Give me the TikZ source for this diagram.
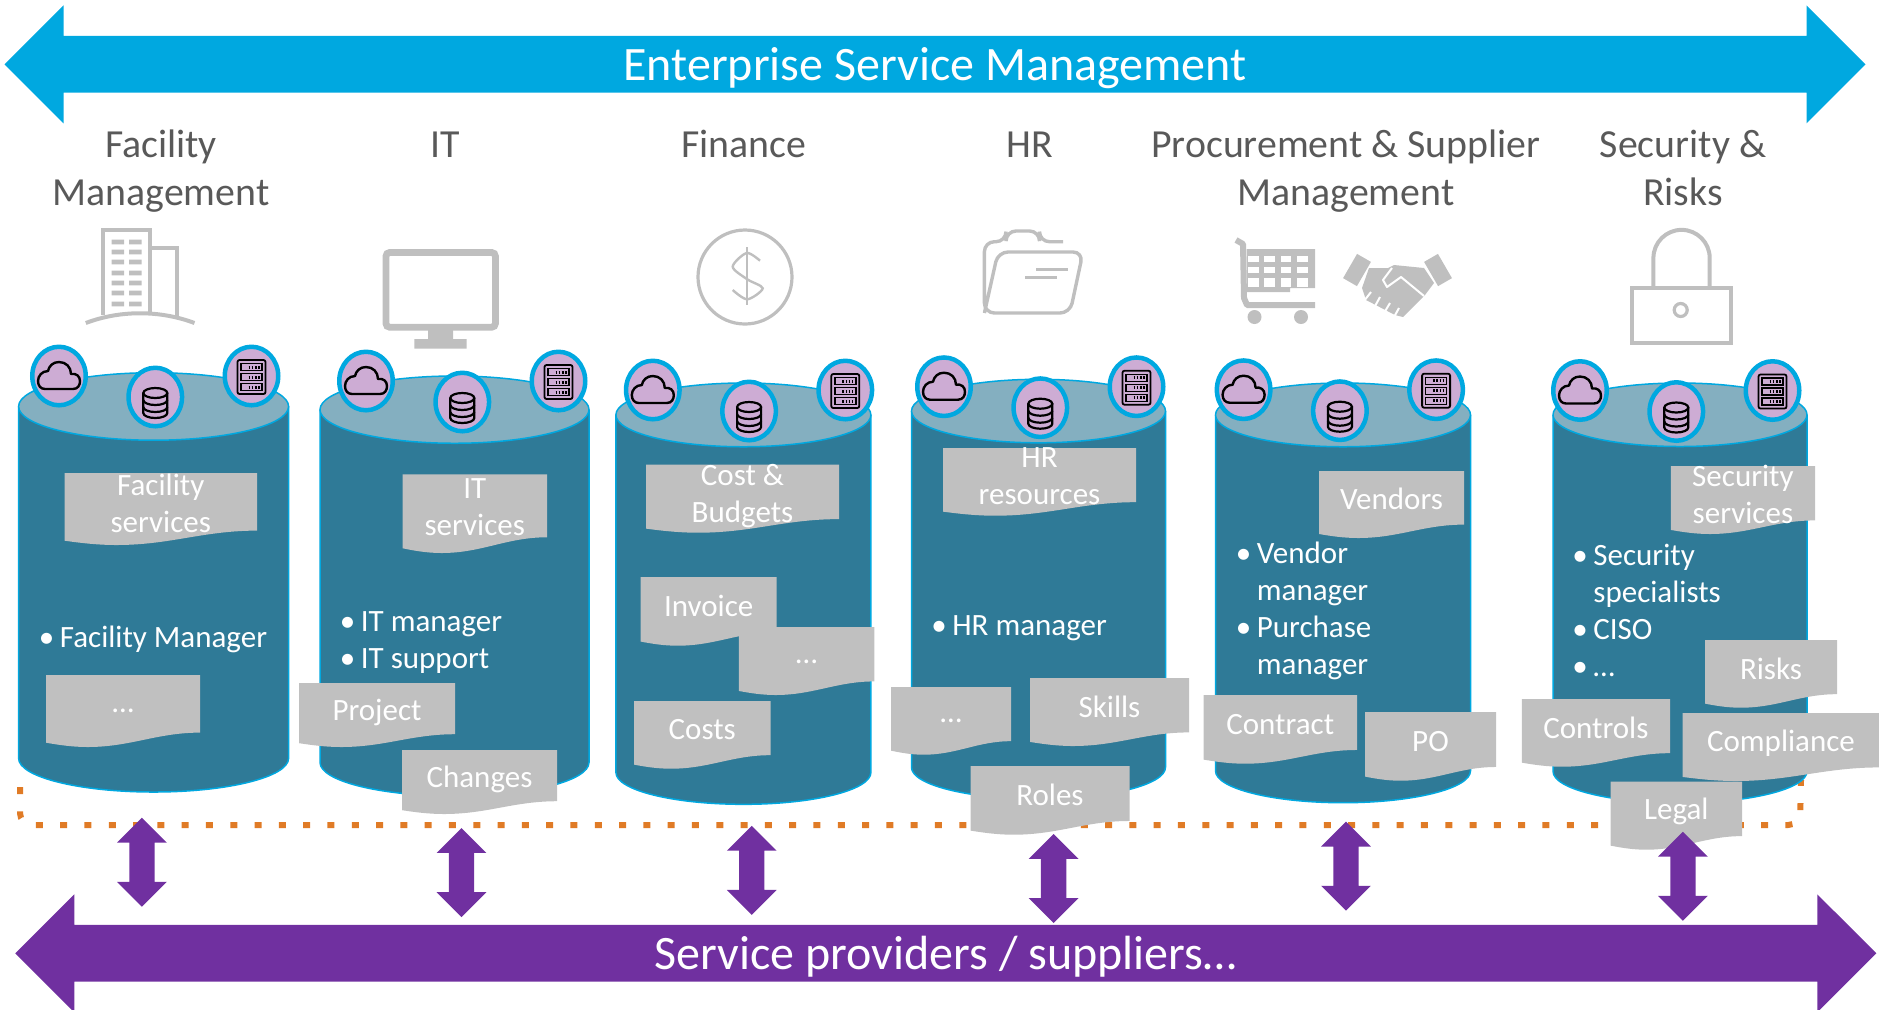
\documentclass[tikz,border=0pt]{standalone}
\usepackage{fontspec}
\setmainfont{Carlito}
\usetikzlibrary{shapes.geometric,shapes.arrows}
\definecolor{skyblue}{HTML}{00A8E0}
\definecolor{royal}{HTML}{7030A0}
\definecolor{teal}{HTML}{2F7A97}
\definecolor{tealtop}{HTML}{84AFC0}
\definecolor{lilac}{HTML}{CDACD4}
\definecolor{sheetgrey}{HTML}{C0C0C0}
\definecolor{icongrey}{HTML}{BFBFBF}
\definecolor{headgrey}{HTML}{595959}
\definecolor{dotorange}{HTML}{E07B26}
\newcommand{\itm}{\makebox[10.5pt][l]{\textbullet}}
\begin{document}
\begin{tikzpicture}[x=0.5pt,y=-0.5pt]
        \tikzset{bigarrow/.style={double arrow,minimum width=59pt,minimum height=930.5pt,
                double arrow head extend=14pt,inner sep=0pt,text=white,text height=21pt,text depth=4.5pt,
                font=\fontsize{24}{28}\selectfont},
            smallarrow/.style={double arrow,rotate=90,minimum height=44.5pt,inner xsep=0pt,inner ysep=6.125pt,
                double arrow head extend=6.125pt,fill=royal},
            badge/.style={ellipse,inner sep=0pt,minimum width=26.75pt,minimum height=29.25pt,
                draw=skyblue,line width=2.25pt,fill=lilac},
            head/.style={anchor=north,align=center,inner sep=0pt,text=headgrey,font=\fontsize{19.9}{24}\selectfont},
            staff/.style={anchor=west,align=left,inner sep=0pt,text=white,font=\fontsize{15.5}{18.5}\selectfont},
            sheetlabel/.style={align=center,inner sep=0pt,text=white,font=\fontsize{15.5}{18.5}\selectfont},
            icon/.style={draw=icongrey,line width=2pt},
            cloudicon/.pic={\draw[line width=1.2pt,line join=round] (-14,13) -- (14,13)
                .. controls (19,13) and (21,9) .. (21,5) .. controls (21,0) and (17,-3) .. (12,-2)
                .. controls (12,-9) and (7,-14) .. (0,-14) .. controls (-6,-14) and (-10,-10) .. (-11,-5)
                .. controls (-17,-5) and (-21,0) .. (-21,5) .. controls (-21,10) and (-18,13) .. (-14,13) -- cycle;},
            dbicon/.pic={\draw[line width=1.1pt] (0,-9) ellipse [x radius=12,y radius=5];
                \draw[line width=1.1pt] (-12,-9) -- (-12,11) arc [start angle=180,end angle=0,x radius=12,y radius=5] -- (12,-9);
                \foreach \k in {-2,5}
                    \draw[line width=1.1pt] (-12,\k) arc [start angle=180,end angle=0,x radius=12,y radius=5];},
            servericon/.pic={\draw[line width=0.9pt,rounded corners=1pt] (-14,-17) rectangle (14,17);
                \foreach \k in {-10,0,10}{
                    \draw[line width=0.7pt] (-10.5,\k-3.5) rectangle (10.5,\k+3.5);
                    \draw[line width=1.5pt,dash pattern=on 0.8pt off 0.8pt] (-3,\k) -- (8,\k);}}}
        \useasboundingbox (0,0) rectangle (1879,1009);
        \draw[dotorange,line width=3pt,dash pattern=on 3.5pt off 8.65pt,rounded corners=6pt]
            (20,787) -- (20,825) -- (1800,825) -- (1801,780);
        \foreach \x/\ytop/\ybot/\w in {153.6/372.7/792/270,454.5/376/796/269,743.4/383/804.3/255,
                1038.5/379.3/799/254,1343/383/802.7/255,1680/383/803/254}{
            \draw[skyblue,fill=teal,line width=0.75pt] (\x-\w/2,\ytop+\w/8) -- (\x-\w/2,\ybot-\w/8)
                arc [start angle=180,end angle=0,x radius=\w/2,y radius=\w/8] -- (\x+\w/2,\ytop+\w/8);
            \draw[skyblue,fill=tealtop,line width=0.75pt] (\x,\ytop+\w/8) ellipse [x radius=\w/2,y radius=\w/8];
        }
        \foreach \n/\x/\y in {fac/59/376,it/366/381,fin/652.8/390,hr/944/386.7,proc/1243.6/389.7,sec/1580/390.5}{
            \node[badge] (cloud\n) at (\x,\y) {};
            \node[badge] (db\n) at (\x+96.3,\y+21) {};
            \node[badge] (server\n) at (\x+192.5,\y) {};
            \pic at (\x,\y) {cloudicon};
            \pic at (\x+96.3,\y+26) {dbicon};
            \pic at (\x+192.5,\y+1) {servericon};
        }
        \foreach \n/\x/\txt in {fac/161/{\strut Facility\\Management},it/445/\strut IT,fin/744/\strut Finance,hr/1030/\strut HR,
                proc/1346/{\strut Procurement \& Supplier\\Management},sec/1683/{\strut Security \&\\Risks}}
            \node[head] (head\n) at (\x,123) {\txt};
        \node[staff] (stafffac) at (38.5,639.5) {\itm Facility Manager};
        \node[staff] (staffit) at (339.5,642.5) {\itm IT manager\\\itm IT support};
        \node[staff] (staffhr) at (931,628.5) {\itm HR manager};
        \node[staff] (staffproc) at (1235.5,610.5) {\itm Vendor\\\phantom{\itm}manager\\\itm Purchase\\\phantom{\itm}manager};
        \node[staff] (staffsec) at (1572,610) {\itm Security\\\phantom{\itm}specialists\\\itm CISO\\\itm …};
        \foreach \x/\y/\w/\h/\f/\txt [count=\n] in {64.5/473/192.5/72/.42/{Facility\\services},402.5/474.3/144.5/78.7/.42/{IT\\services},
                46/675/154/72/.5/…,299/683/156/64/.46/Project,402/750/155/64/.46/Changes,646/464.7/193/68/.46/{Cost \&\\Budgets},
                640.7/577/136/68.7/.42/Invoice,738.8/627/135.6/68/.51/…,634/701/136.5/67.7/.42/Costs,943/448/193/67.7/.42/{HR\\resources},
                891/687/120/67.7/.5/…,1030/678/159/68/.42/Skills,970.5/766/159/68.7/.42/Roles,1319/471/145/67/.42/Vendors,
                1670.8/466/144.2/68/.42/{Security\\services},1705/640/132/67.7/.42/Risks,1203.5/695/153.5/68.7/.43/Contract,
                1365/712/131/68.7/.43/PO,1521.8/699/148.2/67.7/.42/Controls,1682.5/713/197/68/.45/Compliance,1610.6/781.7/131.4/68/.43/Legal}{
            \begin{scope}[shift={(\x,\y)},x=\w*0.5pt,y=-\h*0.5pt]
                \fill[sheetgrey] (0,0) -- (1,0) -- (1,.8) .. controls (.72,.8) and (.55,1) .. (.27,1)
                    .. controls (.17,1) and (.08,.97) .. (0,.94) -- cycle;
                \node[sheetlabel] (sheet\n) at (.5,\f) {\txt};
            \end{scope}
        }
        \node[bigarrow,fill=skyblue] (enterprise) at (935,64.3) {Enterprise Service Management};
        \node[bigarrow,fill=royal] (providers) at (945.8,953.3) {Service providers / suppliers…};
        \foreach \n/\x/\y in {1/141.9/862.2,2/461.5/872.5,3/751.8/870.3,4/1053.6/878.5,5/1346/866.2,6/1682.9/876.3}
            \node[smallarrow] (link\n) at (\x,\y) {};
        \draw[icon] (102.8,315) |- (150,230) -- (150,315) (150,248) -| (176.7,316);
        \foreach \k in {242,252,262,273,283,293,304}
            \fill[icongrey] (111.5,\k-2.3) rectangle (124,\k+2.3) (129,\k-2.3) rectangle (141.6,\k+2.3);
        \draw[icon] (85.8,323) .. controls (120,310) and (160,310) .. (194.5,323);
        \draw[icongrey,line width=3.4pt,rounded corners=2pt] (385.9,252.4) rectangle (495.5,327.3);
        \fill[icongrey] (428,330) rectangle (453,339) (414.4,339) rectangle (466.6,348.7);
        \draw[icon,line width=1.6pt] (745,277) circle [radius=47];
        \draw[icon,line width=1.2pt] (747,247) -- (747,305);
        \draw[icon,line width=1.2pt] plot[smooth] coordinates {(760,260.7) (746.7,253) (732.7,266.7) (747.3,279.3) (762.7,288.3) (747.3,299.3) (732.7,290)};
        \draw[icon,line width=1.7pt,rounded corners=5pt] (1063,241.7) -- (1039.5,241.7) -- (1039.5,231) -- (1006,231) -- (1006,241.7)
            -- (984.4,241.7) -- (984.4,313) -- (1070,313) -- (1083,252) -- (998,252) -- (984.4,313);
        \draw[icon,line width=1.7pt] (1036,269.3) -- (1067.5,269.3) (1025.4,277.7) -- (1057,277.7);
        \fill[icongrey] (1246.5,249) rectangle (1315,288) (1246.5,288) rectangle (1290,292);
        \foreach \cx in {1248,1264,1280.5,1297}
            \foreach \cy/\ch in {255.7/6,267/6,278/9}
                \fill[white] (\cx,\cy) rectangle ++(10.5,\ch);
        \draw[icongrey,line width=3pt,line join=round] (1236,240) -- (1243,244) -- (1244,298) -- (1247,305) -- (1315,305);
        \fill[icongrey] (1254.5,317) circle [radius=7] (1301,317) circle [radius=7];
        \fill[icongrey] (1369,268) -- (1388,268) -- (1394,265) -- (1424,268) -- (1434,283) -- (1425,295) -- (1403,317)
            -- (1395,315) -- (1366,300) -- (1362,288) -- cycle;
        \fill[icongrey,rotate around={-30:(1357,270)}] (1349,256) rectangle (1365,284);
        \fill[icongrey,rotate around={30:(1438,270)}] (1430,256) rectangle (1446,284);
        \draw[white,line width=1pt,line join=round] (1392,268) -- (1383,280) -- (1387,287) -- (1401,277) -- (1424,296)
            (1371,292) -- (1364,301) (1380,297) -- (1374,308) (1390,303) -- (1384,313) (1399,308) -- (1394,317);
        \draw[icon] (1631.8,288) rectangle (1731,342.7);
        \draw[icon] (1653.4,288) -- (1653.4,258) arc [start angle=180,end angle=360,radius=28.15] -- (1709.7,288);
        \draw[icon,line width=1.6pt] (1680.7,310) circle [radius=6.5];
    \end{tikzpicture}
\end{document}
